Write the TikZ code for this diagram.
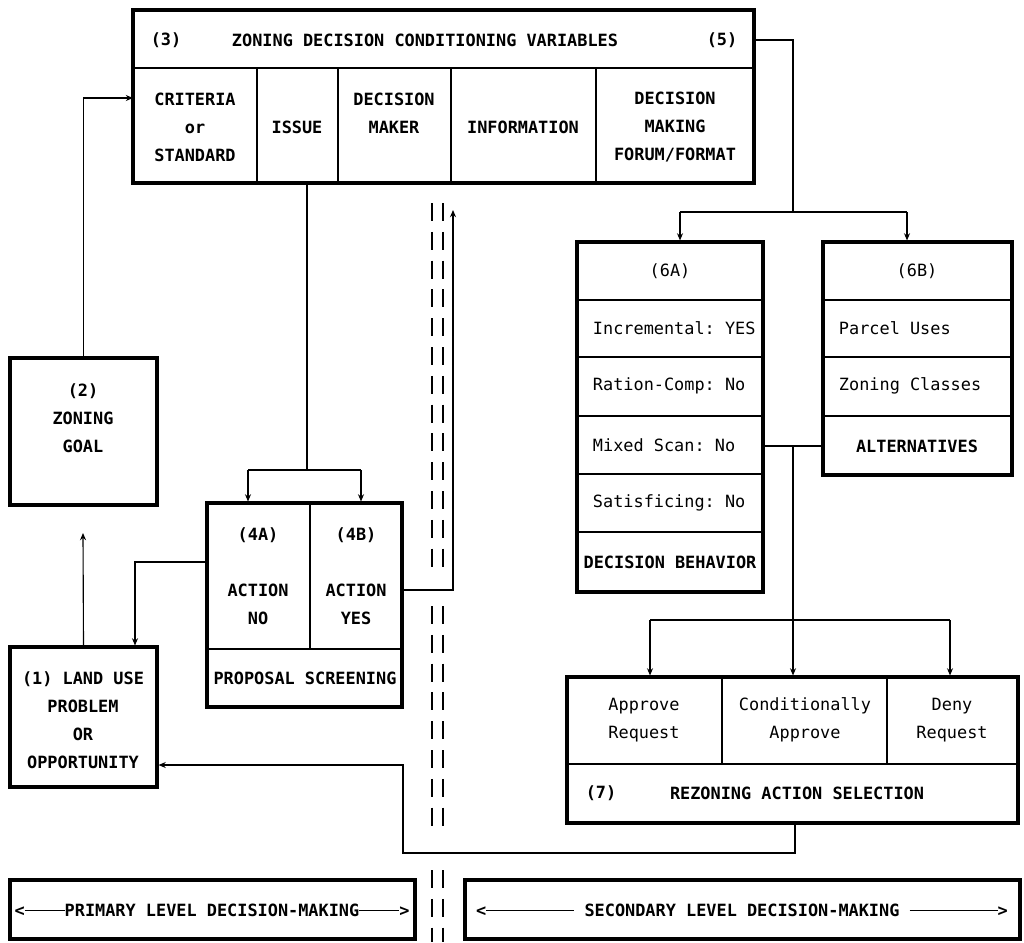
\documentclass[tikz,border=0pt]{standalone}
\usepackage{fontspec}
\setmonofont{DejaVu Sans Mono}
\usetikzlibrary{arrows.meta,fit}

\begin{document}
\begin{tikzpicture}[x=0.025cm,y=-0.025cm,
  box/.style={draw,line width=2.2pt,inner sep=0pt},
  cell/.style={font=\fontsize{12}{20}\selectfont\ttfamily\bfseries,align=center},
  plain/.style={font=\fontsize{12}{20}\selectfont\ttfamily,align=center},
  entry/.style={font=\fontsize{12}{20}\selectfont\ttfamily,anchor=west},
  conn/.style={line width=0.8pt},
  pfeil/.style={conn,-{Stealth[length=1.8mm,width=1.5mm]}},
  strich/.style={line width=1.5pt,dash pattern=on 0.45cm off 0.27cm}]
\useasboundingbox (0,0) rectangle (1024,942);
\node  [box,fit={(133,10) (754,183)}] (V){};
\node  [box,fit={(10,358) (157,505)}] (G){};
\node  [box,fit={(10,647) (157,787)}] (P){};
\node  [box,fit={(207,503) (402,707)}] (S){};
\node  [box,fit={(577,242) (763,592)}] (B){};
\node  [box,fit={(823,242) (1012,475)}] (A){};
\node  [box,fit={(567,677) (1018,823)}] (R){};
\node  [box,fit={(10,880) (415,939)}] (L1){};
\node  [box,fit={(465,880) (1020,939)}] (L2){};
\draw [conn] (133,68) -- (754,68);
\draw [conn] (257,68) -- (257,183);
\draw [conn] (338,68) -- (338,183);
\draw [conn] (451,68) -- (451,183);
\draw [conn] (596,68) -- (596,183);
\draw [conn] (207,649) -- (402,649);
\draw [conn] (310,503) -- (310,649);
\foreach \yy in {300,357,416,474,532}
  \draw [conn] (577,\yy) -- (763,\yy);
\foreach \yy in {300,357,416}
  \draw [conn] (823,\yy) -- (1012,\yy);
\draw [conn] (567,764) -- (1018,764);
\draw [conn] (722,677) -- (722,764);
\draw [conn] (887,677) -- (887,764);
\node  [cell] (V3) at (166,40){(3)};
\node  [cell] (VT) at (425,40){ZONING DECISION CONDITIONING VARIABLES};
\node  [cell] (V5) at (722,40){(5)};
\node  [cell] (c1) at (195,127){CRITERIA\\or\\STANDARD};
\node  [cell] (c2) at (297,127){ISSUE};
\node  [cell] (c3) at (394,113){DECISION\\MAKER};
\node  [cell] (c4) at (523,127){INFORMATION};
\node  [cell] (c5) at (675,127){DECISION\\MAKING\\FORUM/FORMAT};
\node  [cell] (G1) at (83,418){(2)\\ZONING\\GOAL};
\node  [cell] (P1) at (83,720){(1) LAND USE\\PROBLEM\\OR\\OPPORTUNITY};
\node  [cell] (S4A) at (258,535){(4A)};
\node  [cell] (S4B) at (356,535){(4B)};
\node  [cell] (SNo) at (258,604){ACTION\\NO};
\node  [cell] (SYes) at (356,604){ACTION\\YES};
\node  [cell] (SP) at (305,678){PROPOSAL SCREENING};
\node  [plain] (B0) at (670,271){(6A)};
\node  [entry] (B1) at (588,328){Incremental: YES};
\node  [entry] (B2) at (588,386){Ration-Comp: No};
\node  [entry] (B3) at (588,445){Mixed Scan: No};
\node  [entry] (B4) at (588,503){Satisficing: No};
\node  [cell] (B5) at (670,562){DECISION BEHAVIOR};
\node  [plain] (A0) at (917,271){(6B)};
\node  [entry] (A1) at (834,328){Parcel Uses};
\node  [entry] (A2) at (834,386){Zoning Classes};
\node  [cell] (A3) at (917,446){ALTERNATIVES};
\node  [plain] (R1) at (644,720){Approve\\Request};
\node  [plain] (R2) at (805,720){Conditionally\\Approve};
\node  [plain] (R3) at (952,720){Deny\\Request};
\node  [cell] (R7) at (601,793){(7)};
\node  [cell] (RT) at (797,793){REZONING ACTION SELECTION};
\node  [cell] (T1) at (212,910){<\rule[0.55ex]{1.0cm}{0.8pt}PRIMARY LEVEL DECISION-MAKING\rule[0.55ex]{1.0cm}{0.8pt}>};
\node  [cell] (T2) at (742,910){<\rule[0.55ex]{2.2cm}{0.8pt} SECONDARY LEVEL DECISION-MAKING \rule[0.55ex]{2.2cm}{0.8pt}>};
\coordinate (vin) at (133,98);
\coordinate (k5) at (793,212);
\coordinate (ka) at (680,212);
\coordinate (kb) at (907,212);
\coordinate (ki) at (307,470);
\coordinate (k4a) at (248,470);
\coordinate (k4b) at (361,470);
\coordinate (sy) at (453,590);
\coordinate (kup) at (453,210);
\coordinate (sl) at (135,562);
\coordinate (gz) at (83,533);
\coordinate (km) at (793,446);
\coordinate (kr) at (793,620);
\coordinate (r1) at (650,620);
\coordinate (r3) at (950,620);
\coordinate (rb) at (795,853);
\coordinate (rl) at (403,853);
\coordinate (ru) at (403,765);
\draw [pfeil] (G.north) |- (vin);
\draw [conn] (V.east |- V5) -| (k5);
\draw [conn] (ka) -- (kb);
\draw [pfeil] (ka) -- (ka |- B.north);
\draw [pfeil] (kb) -- (kb |- A.north);
\draw [conn] (V.south -| ki) -- (ki);
\draw [conn] (k4a) -- (k4b);
\draw [pfeil] (k4a) -- (k4a |- S.north);
\draw [pfeil] (k4b) -- (k4b |- S.north);
\draw [pfeil] (S.east |- sy) -- (sy) -- (kup);
\draw [pfeil] (S.west |- sl) -- (sl) -- (sl |- P.north);
\draw [pfeil] (P.north) -- (gz);
\draw [conn] (B.east |- A3) -- (A.west |- A3);
\draw [conn] (km) -- (kr);
\draw [conn] (r1) -- (r3);
\draw [pfeil] (r1) -- (r1 |- R.north);
\draw [pfeil] (kr) -- (kr |- R.north);
\draw [pfeil] (r3) -- (r3 |- R.north);
\draw [pfeil] (R.south -| rb) -- (rb) -- (rl) -- (ru) -- (ru -| P.east);
\foreach \xx in {432,443}{
  \draw [strich] (\xx,203) -- (\xx,572);
  \draw [strich] (\xx,606) -- (\xx,836);
  \draw [strich] (\xx,870) -- (\xx,942);
}
\end{tikzpicture}
\end{document}
